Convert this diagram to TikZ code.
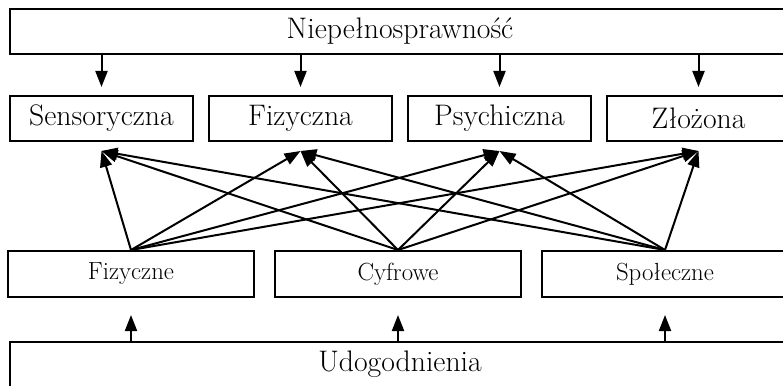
\documentclass[tikz,border=0pt]{standalone}
\usepackage{fontspec}
\usetikzlibrary{arrows.meta}

\tikzset{cadre/.style = {draw, line width = 2pt, inner sep = 0pt,
                         minimum width = #1, minimum height = 45pt,
                         font = \fontsize{29.7}{35}\selectfont},
         cadre/.default = 183pt,
         petit/.style = {cadre = 246pt, minimum height = 46pt,
                         font = \fontsize{24.8}{29}\selectfont},
         fleche/.style = {line width = 2pt, -{Triangle[length = 16pt, width = 12pt]}}
        }

\begin{document}
\begin{tikzpicture}[x = 1pt, y = -1pt]
  \useasboundingbox (0, 0) rectangle (783, 385);
  \clip (0, 0) rectangle (783, 385);
  \node[cadre = 780pt] (niep) at (400, 31.5) {Niepełnosprawność};
  \node[cadre] (sens) at (101.5, 118.5) {Sensoryczna};
  \node[cadre] (fiza) at (300.5, 118.5) {Fizyczna};
  \node[cadre] (psyc) at (499.5, 118.5) {Psychiczna};
  \node[cadre] (zloz) at (698.5, 118.5) {Złożona};
  \node[petit] (fize) at (131, 274) {Fizyczne};
  \node[petit] (cyfr) at (398, 274) {Cyfrowe};
  \node[petit] (spol) at (665, 274) {Społeczne};
  \node[cadre = 780pt] (udog) at (400, 364.5) {Udogodnienia};
  \draw[fleche, shorten > = 8pt] (niep.south -| sens) -- (sens.north);
  \draw[fleche, shorten > = 8pt] (niep.south -| fiza) -- (fiza.north);
  \draw[fleche, shorten > = 8pt] (niep.south -| psyc) -- (psyc.north);
  \draw[fleche, shorten > = 8pt] (niep.south -| zloz) -- (zloz.north);
  \draw[fleche, shorten > = 17pt] (udog.north -| fize) -- (fize.south);
  \draw[fleche, shorten > = 17pt] (udog.north -| cyfr) -- (cyfr.south);
  \draw[fleche, shorten > = 17pt] (udog.north -| spol) -- (spol.south);
  \draw[fleche] (fize.north) -- ([yshift = -9pt]sens.south);
  \draw[fleche] (fize.north) -- ([yshift = -9pt]fiza.south);
  \draw[fleche] (fize.north) -- ([yshift = -9pt]psyc.south);
  \draw[fleche] (fize.north) -- ([yshift = -9pt]zloz.south);
  \draw[fleche] (cyfr.north) -- ([yshift = -9pt]sens.south);
  \draw[fleche] (cyfr.north) -- ([yshift = -9pt]fiza.south);
  \draw[fleche] (cyfr.north) -- ([yshift = -9pt]psyc.south);
  \draw[fleche] (cyfr.north) -- ([yshift = -9pt]zloz.south);
  \draw[fleche] (spol.north) -- ([yshift = -9pt]sens.south);
  \draw[fleche] (spol.north) -- ([yshift = -9pt]fiza.south);
  \draw[fleche] (spol.north) -- ([yshift = -9pt]psyc.south);
  \draw[fleche] (spol.north) -- ([yshift = -9pt]zloz.south);
\end{tikzpicture}
\end{document}
